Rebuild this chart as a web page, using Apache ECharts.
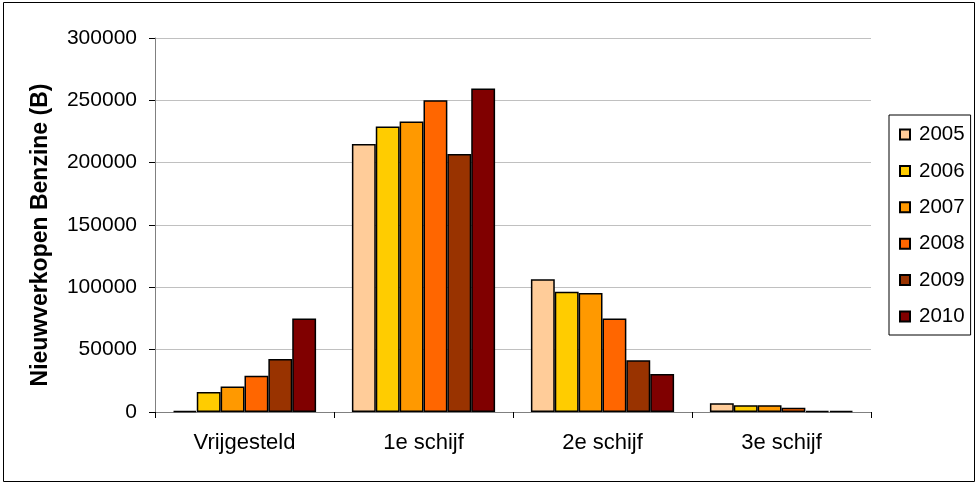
<!DOCTYPE html>
<html><head><meta charset="utf-8">
<script src="https://cdn.jsdelivr.net/npm/echarts@6/dist/echarts.min.js"></script>
<style>html,body{margin:0;padding:0;background:#fff}#c{width:978px;height:485px}</style>
</head><body><div id="c"></div>
<script>
const categories = ['Vrijgesteld', '1e schijf', '2e schijf', '3e schijf'];
const years = ['2005', '2006', '2007', '2008', '2009', '2010'];
const v2005 = [1000, 215000, 106500, 7000];
const v2006 = [16000, 229000, 96500, 5500];
const v2007 = [20500, 233000, 95500, 5500];
const v2008 = [29000, 250000, 75000, 3500];
const v2009 = [42500, 207000, 41500, 1000];
const v2010 = [75000, 259500, 30500, 1000];
const colors = ['#FFCC99', '#FFCC00', '#FF9900', '#FF6600', '#993300', '#800000'];
const seriesValues = [v2005, v2006, v2007, v2008, v2009, v2010];

const chart = echarts.init(document.getElementById('c'), null, {renderer: 'canvas'});
const FONT = 'Liberation Sans';
chart.setOption({
  animation: false,
  textStyle: {fontFamily: FONT},
  graphic: [{type: 'rect', shape: {x: 3.5, y: 2.5, width: 971, height: 479}, style: {fill: 'none', stroke: '#000', lineWidth: 1}}],
  grid: {left: 155, right: 107, top: 38, bottom: 73},
  legend: {
    orient: 'vertical', left: 889, top: 115,
    padding: [9, 6, 8, 10],
    borderColor: '#000', borderWidth: 1,
    itemWidth: 10, itemHeight: 10, itemGap: 15.4,
    icon: 'rect',
    textStyle: {fontSize: 20.5, lineHeight: 20, color: '#000', fontFamily: FONT, padding: [0, 0, 0, 4]},
    data: years
  },
  xAxis: {
    type: 'category', data: categories,
    axisLine: {lineStyle: {color: '#808080', width: 1}},
    axisTick: {show: true, alignWithLabel: false, length: 6, lineStyle: {color: '#000'}},
    axisLabel: {fontSize: 22, color: '#000', margin: 20, fontFamily: FONT}
  },
  yAxis: {
    type: 'value', min: 0, max: 300000, interval: 50000,
    name: 'Nieuwverkopen Benzine (B)', nameLocation: 'middle', nameGap: 103,
    nameTextStyle: {fontSize: 23, fontWeight: 'bold', color: '#000', fontFamily: FONT, padding: [0, 20, 0, 0]},
    axisLine: {show: true, lineStyle: {color: '#808080', width: 1}},
    axisTick: {show: true, length: 6, lineStyle: {color: '#000'}},
    axisLabel: {fontSize: 21, color: '#000', margin: 18, fontFamily: FONT, formatter: v => String(v)},
    splitLine: {lineStyle: {color: '#c0c0c0', width: 1}}
  },
  series: years.map((y, i) => ({
    name: y, type: 'bar', data: seriesValues[i],
    barGap: '0%', barCategoryGap: '20%',
    itemStyle: {color: colors[i], borderColor: '#000', borderWidth: 1.5}
  }))
});
</script></body></html>
